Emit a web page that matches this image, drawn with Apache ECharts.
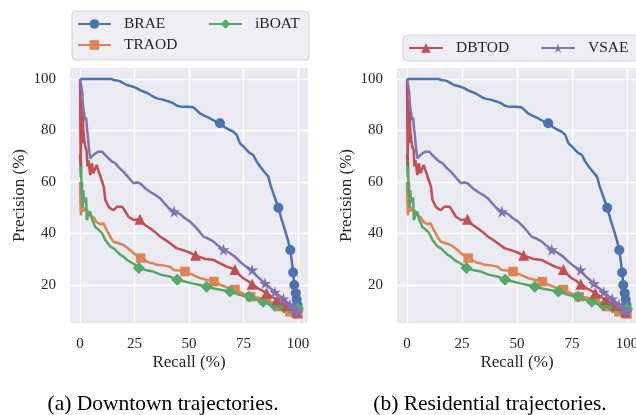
<!DOCTYPE html>
<html>
<head>
<meta charset="utf-8">
<script src="https://cdn.jsdelivr.net/npm/echarts@6/dist/echarts.min.js"></script>
<style>
  html, body { margin: 0; padding: 0; background: #fff; }
  #chart { width: 636px; height: 415px; }
</style>
</head>
<body>
<div id="chart"></div>
<script>
// tick labels
const recallTicks = [0, 25, 50, 75, 100];
const precisionTicks = [20, 40, 60, 80, 100];

// [recall %, precision %] (both panels look the same)
const braeCurve = [[0,100],[14.5,100],[15.5,99.6],[18,99.3],[21.4,97.7],[23.7,97.2],[26,96.5],[27.5,95.7],[31,94.5],[33,93.5],[35.2,92.5],[38,92],[41,91.2],[42.8,90.6],[44.3,89.7],[46.6,89.2],[48.9,89.2],[52,89],[54,87.5],[55,86.7],[57,85.8],[59,85],[62,83.6],[64.2,82.8],[66,81.5],[68,80.5],[70.3,79.6],[71.9,78.3],[73.4,75],[75,73.8],[76.5,72.4],[77.8,71.3],[79.5,70.5],[81,68],[82.6,66],[84.5,64],[86.4,62.1],[87.5,58.5],[88.7,55.6],[91,50],[92.5,45.5],[94,41.4],[95.5,37],[96.5,33.6],[97.2,29],[97.8,24.8],[98.3,20],[99,16.8],[99.4,14.3],[99.8,12.2],[100,10.3],[100,9.2]];
const braeMarks = [[64.2,82.8],[91,50],[96.5,33.6],[97.8,24.8],[98.3,20],[99,16.8],[99.4,14.3],[99.8,12.2],[100,10.3]];

const traodCurve = [[0,60],[0.2,52],[0.4,47],[0.6,46.5],[1,51],[1.5,48.5],[2,50],[3.2,49.1],[4.6,47.2],[5.5,46.5],[6.5,46],[7.5,44.5],[8.4,44.6],[9.5,43.5],[10.7,44],[11.8,42],[13,40.1],[14.3,38],[15.4,36.8],[16.1,36.8],[17.7,36.2],[19.9,35.5],[21.5,34.5],[22.9,33.6],[25,32],[27.8,30.4],[30,29.5],[31.8,28.6],[33.6,28.4],[35.2,27.8],[38,27.6],[41.3,27.1],[42.8,25.8],[45.5,25.6],[48.2,25.2],[51,24.2],[55,22.6],[58,22],[61.5,21.3],[64,20.2],[67.3,19.1],[69,18.6],[71.1,18.2],[74,17],[78.3,15.4],[82,15],[85.6,14.2],[88,13],[91,11.6],[94,10.6],[96.3,9.6],[98.5,9],[100,8.6]];
const traodMarks = [[27.8,30.4],[48.2,25.2],[61.5,21.3],[71.1,18.2],[78.3,15.4],[85.6,14.2],[91,11.6],[96.3,9.6],[100,8.7]];

const iboatCurve = [[0,71],[0.3,62],[0.5,68],[0.7,55],[0.9,60],[1.1,50],[1.5,56.9],[1.8,52],[2.4,51.7],[2.8,54],[3.1,45.2],[3.8,47],[4.6,48.5],[5.5,45.5],[6.3,44],[6.9,42.6],[8.6,41.4],[9.2,41.4],[10.1,40.1],[11.6,37.5],[12.2,37.5],[13.9,34.9],[15.3,34.3],[16.2,33.6],[18.5,31.7],[19.9,31],[21.5,29.8],[22.9,29],[25,28],[27,26.6],[30,25.8],[33.6,25.2],[37,24],[41.3,23.2],[44.6,22],[48,21.3],[52,20.5],[55,20],[58.1,19.3],[62,18.5],[65,18],[68.8,17.4],[72,16.5],[75,15.8],[77.7,15.5],[81,14.2],[84,13.5],[87,12.5],[89.2,12],[91.5,11.5],[93.5,11.2],[95.5,10.8],[97.5,10.4],[98.8,10.6],[100,10.8]];
const iboatMarks = [[27,26.6],[44.6,22],[58.1,19.3],[68.8,17.4],[77.7,15.5],[84,13.5],[89.2,12],[93.5,11.2],[97.5,10.4],[100,10.8]];

const dbtodCurve = [[0,100],[0.3,66],[0.6,92],[0.9,75],[1.2,88],[1.5,80.2],[2,76],[2.4,73.7],[3,72.4],[3.4,66],[3.8,68.5],[4.7,62.7],[5.4,67.3],[6.1,63.4],[6.7,64],[7.6,66.6],[8.4,64.5],[9.3,64.7],[10.2,60],[10.9,58.2],[11.6,53],[13.1,50.4],[14.3,49.5],[15.4,49.1],[17,50.4],[19.3,50.4],[20.5,49],[22.2,46.5],[24.5,45.2],[27.5,45.5],[29.5,43.5],[32.1,42],[34.5,40.5],[36.7,38.8],[40,37],[44.3,34.3],[48,33.3],[51,32.3],[53,31.5],[57,30.2],[61.2,29.7],[64,28.5],[67.3,27.1],[71.1,26],[73,24],[74.9,22.6],[77,21.5],[79,20.3],[82,18.5],[85.6,16.8],[88,15.4],[90.5,14.2],[92.5,13],[94.8,12],[96.5,10.8],[98,10],[99.4,9.4],[100,9]];
const dbtodMarks = [[27.5,45.5],[53,31.5],[71.1,26],[79,20.3],[85.6,16.8],[90.5,14.2],[94.8,12],[99.4,9.4]];

const vsaeCurve = [[0,100],[0.5,100],[1,95],[1.3,90],[1.7,90.6],[2,86],[2.4,84],[2.8,85],[3.2,80.8],[3.6,78],[4,73.7],[4.4,71],[4.7,69.2],[5.5,70],[7,71.1],[8.5,71.8],[10.1,71.8],[11.5,70.5],[13.1,69.2],[14.5,68],[16.2,67.3],[18,65.5],[19.9,64],[22,62],[24.5,59.5],[26,59.8],[27.5,59.5],[30,57.5],[32.1,56.2],[34.5,55],[36.7,53.7],[38.5,52],[40.5,50],[43.2,48.5],[46,47.5],[48,46],[50.5,44.6],[53,42.5],[56.6,38.8],[58.1,38.3],[61,37],[63,35.5],[65.8,33.7],[68.5,32.5],[71,31],[73.4,29],[76,27.2],[78.9,25.8],[81,23.5],[83,22],[84.9,20.6],[87,19],[89.4,17.2],[91.5,15.8],[93.3,14.6],[95,13.3],[96.3,12.3],[97.7,11],[98.8,10.4],[99.5,9.8],[100,9.4]];
const vsaeMarks = [[43.2,48.5],[65.8,33.7],[78.9,25.8],[84.9,20.6],[89.4,17.2],[93.3,14.6],[96.3,12.3],[98.8,10.4],[100,9.5]];

const methods = ['BRAE', 'TRAOD', 'iBOAT', 'DBTOD', 'VSAE'];
const curves = [braeCurve, traodCurve, iboatCurve, dbtodCurve, vsaeCurve];
const marks = [braeMarks, traodMarks, iboatMarks, dbtodMarks, vsaeMarks];

const colors = ['#4C72B0', '#DD8452', '#55A868', '#C44E52', '#8172B3'];
const starPath = 'path://M50,0 L61,35 L98,35 L68,57 L79,91 L50,70 L21,91 L32,57 L2,35 L39,35 Z';
const symbols = ['circle', 'rect', 'diamond', 'triangle', starPath];
const symbolSizes = [10, 9.5, 12, 11, 12];

const FONT = '"Liberation Serif", "Times New Roman", serif';
const TEXT = '#262626';

function makeGrid(left, width) {
  return {
    left: left, top: 68, width: width, height: 255,
    show: true, backgroundColor: '#EAEAF2', borderWidth: 0,
    containLabel: false, outerBoundsMode: 'none'
  };
}

function makeXAxis(idx, min, max) {
  return {
    type: 'value', gridIndex: idx, min: min, max: max,
    name: 'Recall (%)', nameLocation: 'middle', nameGap: 31, nameMoveOverlap: false,
    nameTextStyle: { fontFamily: FONT, fontSize: 17, color: TEXT },
    axisLine: { show: false },
    axisTick: { show: false, customValues: recallTicks },
    axisLabel: { customValues: recallTicks, margin: 14, fontFamily: FONT, fontSize: 15, color: TEXT },
    splitLine: { show: true, lineStyle: { color: '#ffffff', width: 1.3 } }
  };
}

function makeYAxis(idx) {
  return {
    type: 'value', gridIndex: idx, min: 5.2, max: 104.3,
    name: 'Precision (%)', nameLocation: 'middle', nameGap: 42, nameMoveOverlap: false,
    nameTextStyle: { fontFamily: FONT, fontSize: 17, color: TEXT },
    axisLine: { show: false },
    axisTick: { show: false, customValues: precisionTicks },
    axisLabel: { customValues: precisionTicks, margin: 14, fontFamily: FONT, fontSize: 15, color: TEXT },
    splitLine: { show: true, lineStyle: { color: '#ffffff', width: 1.3 } }
  };
}

// one line + one marker series per method and panel
function buildSeries() {
  let list = [];
  for (let p = 0; p < 2; p++) {
    methods.forEach((name, i) => {
      list.push({
        name: name, type: 'line', xAxisIndex: p, yAxisIndex: p,
        data: curves[i], showSymbol: false, symbol: symbols[i],
        lineStyle: { color: colors[i], width: 2.5 },
        itemStyle: { color: colors[i] },
        z: 2 + i, animation: false, silent: true
      });
      list.push({
        name: name, type: 'scatter', xAxisIndex: p, yAxisIndex: p,
        data: marks[i], symbol: symbols[i], symbolSize: symbolSizes[i],
        itemStyle: { color: colors[i], opacity: 1 },
        z: 2 + i, animation: false, silent: true
      });
    });
  }
  return list;
}

const legendText = { fontFamily: FONT, fontSize: 15.5, color: TEXT, lineHeight: 16, width: 79, padding: [0, 0, 0, 8] };

const chart = echarts.init(document.getElementById('chart'), null, { renderer: 'canvas' });
chart.setOption({
  animation: false,
  backgroundColor: '#ffffff',
  grid: [makeGrid(70, 238), makeGrid(397, 240)],
  xAxis: [makeXAxis(0, -4.6, 104.6), makeXAxis(1, -4.55, 104.55)],
  yAxis: [makeYAxis(0), makeYAxis(1)],
  legend: [
    {
      left: 72, top: 11, orient: 'horizontal', width: 226,
      padding: [5, 7, 7, 5], itemGap: 5, itemWidth: 33, itemHeight: 12,
      backgroundColor: '#EEEEF4', borderColor: '#D2D2D6', borderWidth: 1, borderRadius: 4,
      data: [{ name: 'BRAE' }, { name: 'iBOAT', textStyle: { width: 47 } }, { name: 'TRAOD' }],
      textStyle: legendText, selectedMode: false
    },
    {
      left: 403, top: 35, orient: 'horizontal', width: 230,
      padding: [5, 7, 5, 5], itemGap: 5, itemWidth: 34, itemHeight: 12,
      backgroundColor: '#EEEEF4', borderColor: '#D2D2D6', borderWidth: 1, borderRadius: 4,
      data: [{ name: 'DBTOD' }, { name: 'VSAE', textStyle: { width: 42 } }],
      textStyle: legendText, selectedMode: false
    }
  ],
  graphic: [
    { type: 'text', x: 163, y: 404, style: { text: '(a) Downtown trajectories.', font: '21.5px ' + FONT, fill: '#000', align: 'center', verticalAlign: 'middle' } },
    { type: 'text', x: 490, y: 404, style: { text: '(b) Residential trajectories.', font: '21.5px ' + FONT, fill: '#000', align: 'center', verticalAlign: 'middle' } }
  ],
  series: buildSeries()
});
</script>
</body>
</html>
